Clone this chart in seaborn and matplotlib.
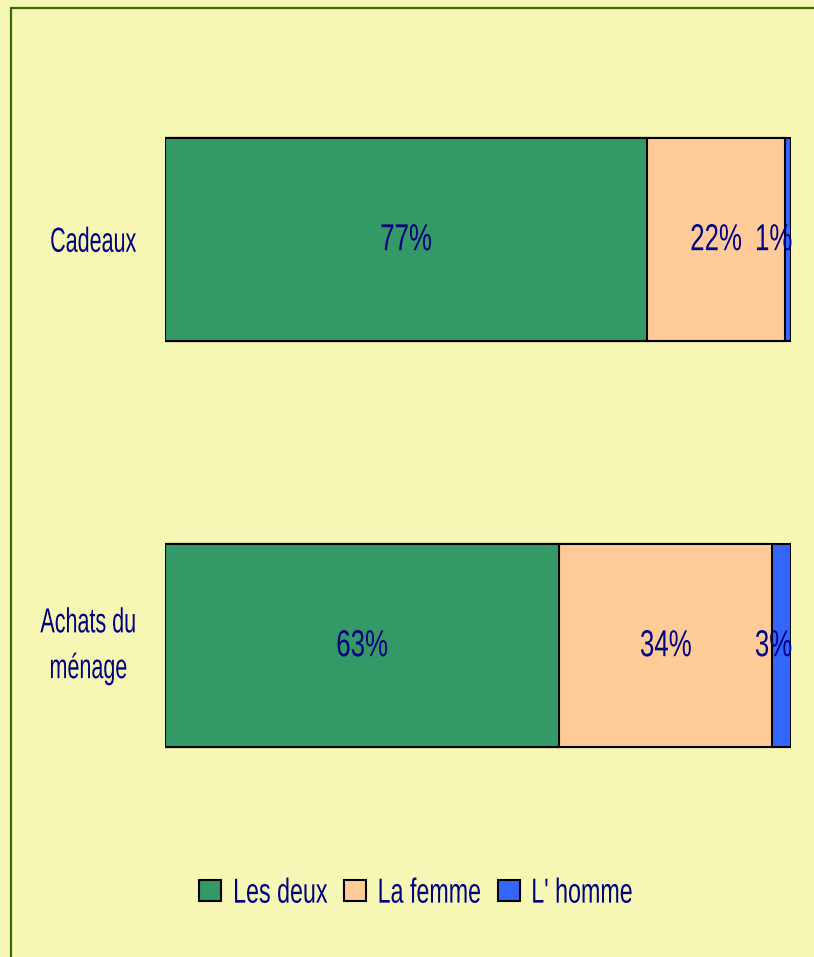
import matplotlib
matplotlib.use("Agg")
import matplotlib.pyplot as plt
import matplotlib.patches as mpatches
from matplotlib.patheffects import AbstractPathEffect
from matplotlib.transforms import Affine2D
import seaborn as sns
import pandas as pd

categories = ["Cadeaux", "Achats du\nménage"]
series_names = ["Les deux", "La femme", "L' homme"]
les_deux = [77, 63]
la_femme = [22, 34]
l_homme = [1, 3]

colors = ["#339966", "#FFCC99", "#3366FF"]
bg = "#F7F7B5"
text_color = "#000080"

FONT_SCALE = 100.0  # matplotlib text-path units per em


class Tall(AbstractPathEffect):
    """Stretch glyphs vertically about mid cap-height (condensed-font look)."""

    def __init__(self, k=1.5, cy=0.36):
        super().__init__()
        self.k = k
        self.cy = cy * FONT_SCALE

    def draw_path(self, renderer, gc, tpath, affine, rgbFace=None):
        pre = Affine2D().translate(0, -self.cy).scale(1, self.k).translate(0, self.cy)
        renderer.draw_path(gc, tpath, pre + affine, rgbFace)


sns.set_theme(style="white")
plt.rcParams["font.family"] = ["Liberation Sans", "DejaVu Sans"]

df = pd.DataFrame({
    "cat": categories,
    "Les deux": les_deux,
    "La femme": la_femme,
    "L' homme": l_homme,
})
df["c1"] = df["Les deux"]
df["c2"] = df["Les deux"] + df["La femme"]
df["c3"] = df["c2"] + df["L' homme"]

W, H = 814, 957
fig = plt.figure(figsize=(W / 100, H / 100), dpi=100, facecolor=bg)
ax = fig.add_axes([165 / W, (H - 848) / H, 626 / W, 812 / H])
ax.set_facecolor(bg)

for col, c in zip(["c3", "c2", "c1"], colors[::-1]):
    sns.barplot(data=df, x=col, y="cat", orient="h", color=c, width=0.5,
                edgecolor="black", linewidth=1.5, saturation=1, ax=ax)

ax.set_xlim(0, 100)
ax.set_ylim(1.5, -0.5)
ax.set_xlabel("")
ax.set_ylabel("")
ax.set_xticks([])
for s in ax.spines.values():
    s.set_visible(False)

k_tick = 1 / 0.62
ax.tick_params(axis="y", length=0, pad=29 * 72 / 100, labelsize=25 / k_tick,
               labelcolor=text_color)
for lab in ax.get_yticklabels():
    lab.set_multialignment("center")
    if "\n" in lab.get_text():
        lab.set_verticalalignment("center")
    lab.set_linespacing(2.55)
    lab.set_path_effects([Tall(k_tick)])

k_lab = 1 / 0.69
fs = 27 / k_lab
tall_lab = [Tall(k_lab)]
for i in range(len(categories)):
    a, b, c = les_deux[i], la_femme[i], l_homme[i]
    ax.text(a / 2, i, f"{a}%", ha="center", va="center", color=text_color,
            fontsize=fs, path_effects=tall_lab)
    ax.text(a + b / 2, i, f"{b}%", ha="center", va="center", color=text_color,
            fontsize=fs, path_effects=tall_lab)
    ax.text(100.2, i, f"{c}%", ha="right", va="center", color=text_color,
            fontsize=fs, path_effects=tall_lab)

k_leg = 1 / 0.67
handles = [mpatches.Patch(facecolor=col, edgecolor="black", linewidth=1.5) for col in colors]
leg = fig.legend(handles, series_names, loc="center", bbox_to_anchor=(416 / W, (H - 892) / H),
                 ncol=3, frameon=False, fontsize=25 / k_leg, handlelength=0.95,
                 handleheight=0.95, handletextpad=0.5, columnspacing=0.7,
                 labelcolor=text_color)
for t in leg.get_texts():
    t.set_path_effects([Tall(k_leg)])

border = mpatches.Rectangle((10.5 / W, -0.1), 1.2, (H - 8) / H + 0.1, transform=fig.transFigure,
                            fill=False, edgecolor="#3A6B00", linewidth=1.6)
fig.patches.append(border)

fig.savefig("out.png", dpi=100, facecolor=bg)
